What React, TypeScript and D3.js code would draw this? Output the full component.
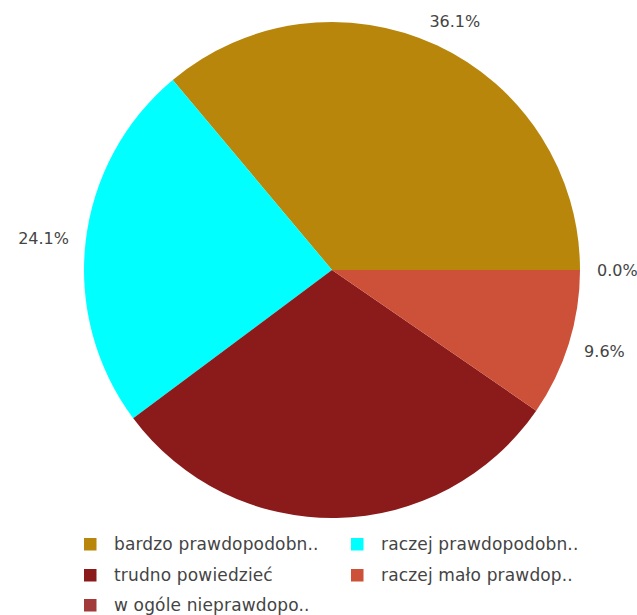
import React, { useEffect, useRef } from "react";
import * as d3 from "d3";

const categories = [
  "bardzo prawdopodobn..",
  "raczej prawdopodobn..",
  "trudno powiedzieć",
  "raczej mało prawdop..",
  "w ogóle nieprawdopo..",
];
const values = [36.1, 24.1, 30.2, 9.6, 0.0];
const labels = ["36.1%", "24.1%", "30.2%", "9.6%", "0.0%"];
const showLabel = [true, true, false, true, true];
const colors = ["#B8860B", "#00FFFF", "#8B1A1A", "#CD5038", "#A33A3A"];

const W = 637;
const H = 615;

export default function App() {
  const ref = useRef<SVGSVGElement>(null);
  useEffect(() => {
    const svg = d3.select(ref.current);
    svg.selectAll("*").remove();
    const cx = 332, cy = 270, R = 248, LR = 265;
    const pie = d3
      .pie<number>()
      .sort(null)
      .value((d) => d)
      .startAngle(Math.PI / 2)
      .endAngle(Math.PI / 2 - 2 * Math.PI);
    const arcs = pie(values);
    const arc = d3.arc<d3.PieArcDatum<number>>().innerRadius(0).outerRadius(R);
    const g = svg.append("g").attr("transform", `translate(${cx},${cy})`);
    g.selectAll("path")
      .data(arcs)
      .join("path")
      .attr("d", arc as any)
      .attr("fill", (_d, i) => colors[i]);

    const lg = svg.append("g");
    arcs.forEach((a, i) => {
      if (!showLabel[i]) return;
      const mid = (a.startAngle + a.endAngle) / 2;
      const cosT = Math.sin(mid);
      const sinT = Math.cos(mid);
      const ax = cx + LR * cosT;
      const ay = cy - LR * sinT;
      const t = lg
        .append("text")
        .attr("font-family", "DejaVu Sans")
        .attr("font-size", 16)
        .attr("fill", "#444")
        .attr("dominant-baseline", "central")
        .text(labels[i]);
      const w = (t.node() as SVGTextElement).getComputedTextLength();
      const frac = (1 - cosT) / 2;
      t.attr("x", ax - frac * w).attr("y", ay - sinT * 9);
    });

    const legX = [84, 351];
    const legY = [544, 575, 605];
    const leg = svg.append("g");
    categories.forEach((c, i) => {
      const col = i % 2;
      const row = Math.floor(i / 2);
      leg
        .append("rect")
        .attr("x", legX[col])
        .attr("y", legY[row] - 6)
        .attr("width", 12.5)
        .attr("height", 12.5)
        .attr("fill", colors[i]);
      leg
        .append("text")
        .attr("x", legX[col] + 30)
        .attr("y", legY[row])
        .attr("dominant-baseline", "central")
        .attr("font-family", "DejaVu Sans")
        .attr("font-size", 17)
        .attr("letter-spacing", 0.15)
        .attr("fill", "#444")
        .text(c);
    });
  }, []);
  return (
    <svg
      ref={ref}
      width={W}
      height={H}
      style={{ position: "absolute", left: 0, top: 0, background: "#fff" }}
    />
  );
}
